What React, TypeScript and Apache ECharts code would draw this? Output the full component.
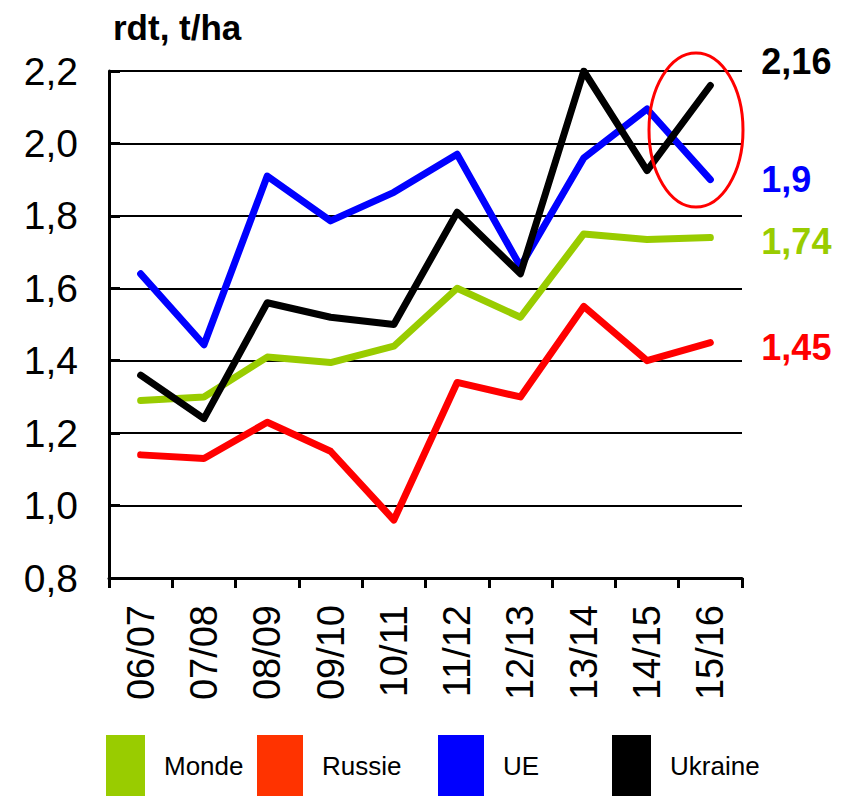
import React, { useEffect, useRef } from "react";
import * as echarts from "echarts";

const categories = ["06/07", "07/08", "08/09", "09/10", "10/11", "11/12", "12/13", "13/14", "14/15", "15/16"];
const monde = [1.29, 1.3, 1.41, 1.395, 1.44, 1.6, 1.52, 1.75, 1.735, 1.74];
const russie = [1.14, 1.13, 1.23, 1.15, 0.96, 1.34, 1.3, 1.55, 1.4, 1.45];
const ue = [1.64, 1.444, 1.91, 1.786, 1.865, 1.97, 1.66, 1.96, 2.095, 1.9];
const ukraine = [1.36, 1.24, 1.56, 1.52, 1.5, 1.81, 1.64, 2.2, 1.925, 2.16];
const yTicks = { min: 0.8, max: 2.2, interval: 0.2 };

const FONT = "'Liberation Sans', Arial, sans-serif";

export default function App() {
  const ref = useRef<HTMLDivElement>(null);
  useEffect(() => {
    if (!ref.current) return;
    const chart = echarts.init(ref.current, null, { renderer: "svg" });
    const fmt = (p: any) => String(p.value).replace(".", ",");
    const mk = (name: string, data: number[], line: string, legendColor: string, off: number[]) => ({
      name,
      type: "line",
      data,
      showSymbol: false,
      symbol: "none",
      lineStyle: { color: line, width: 7, cap: "round", join: "round" },
      itemStyle: { color: legendColor },
      endLabel: {
        show: true,
        formatter: fmt,
        color: line,
        fontSize: 36,
        fontWeight: "bold",
        fontFamily: FONT,
        offset: off,
      },
    });
    const legendItem = (name: string, left: number, w: number) => ({
      data: [name],
      left,
      top: 735,
      padding: 0,
      icon: "rect",
      itemWidth: w,
      itemHeight: 61,
      textStyle: { fontSize: 26, color: "#000", fontFamily: FONT, padding: [0, 0, 0, 14] },
      selectedMode: false,
    });
    chart.setOption({
      animation: false,
      backgroundColor: "#fff",
      textStyle: { fontFamily: FONT },
      title: {
        text: "rdt, t/ha",
        left: 108,
        top: 5,
        textStyle: { fontSize: 35, fontWeight: "bold", color: "#000", fontFamily: FONT },
      },
      grid: { left: 109, right: 103, top: 71, bottom: 218, containLabel: false },
      xAxis: {
        type: "category",
        data: categories,
        boundaryGap: true,
        axisLine: { lineStyle: { color: "#000", width: 3 } },
        axisTick: { show: true, length: 10, lineStyle: { color: "#000", width: 3 }, alignWithLabel: false },
        axisLabel: { rotate: 90, fontSize: 38, color: "#000", margin: 27, fontFamily: FONT, interval: 0 },
      },
      yAxis: {
        type: "value",
        min: yTicks.min,
        max: yTicks.max,
        interval: yTicks.interval,
        axisLine: { show: true, lineStyle: { color: "#000", width: 3 } },
        axisTick: { show: true, inside: true, length: 11, lineStyle: { color: "#000", width: 3 } },
        splitLine: { show: true, lineStyle: { color: "#000", width: 2 } },
        axisLabel: {
          fontSize: 39,
          color: "#000",
          margin: 31,
          fontFamily: FONT,
          formatter: (v: number) => v.toFixed(1).replace(".", ","),
        },
      },
      legend: [
        legendItem("Monde", 106, 39),
        legendItem("Russie", 257, 46),
        legendItem("UE", 438, 46),
        legendItem("Ukraine", 612, 39),
      ],
      series: [
        mk("Monde", monde, "#99cc00", "#99cc00", [43, 4]),
        mk("Russie", russie, "#ff0000", "#ff3300", [43, 5]),
        mk("UE", ue, "#0000ff", "#0000ff", [43, 0]),
        mk("Ukraine", ukraine, "#000000", "#000000", [43, -24]),
      ],
      graphic: [
        {
          type: "ellipse",
          shape: { cx: 696, cy: 130, rx: 47, ry: 77 },
          style: { fill: "none", stroke: "#ff0000", lineWidth: 3 },
          z: 100,
        },
      ],
    });
    return () => chart.dispose();
  }, []);
  return (
    <div
      ref={ref}
      style={{ position: "absolute", left: 0, top: 0, width: 845, height: 796 }}
    />
  );
}
